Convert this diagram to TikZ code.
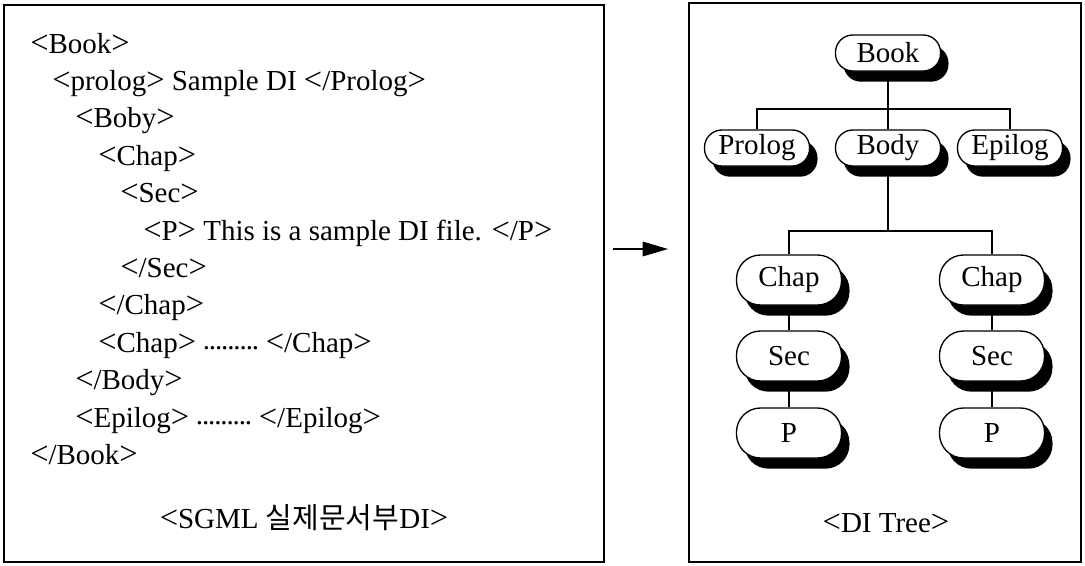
\documentclass[tikz,border=0pt]{standalone}
\usepackage{fontspec}
\usepackage{graphicx}
\setmainfont{Liberation Serif}
\newfontfamily\cjk{Noto Sans CJK KR}
\usetikzlibrary{shadows,arrows.meta}
\newcommand\dd{\raisebox{2pt}{\makebox[4.6pt]{.}}}
\newcommand\dts{\dd\dd\dd\dd\dd\dd\dd\dd\dd}
\newcommand\lt{\scalebox{1.12}[1.12]{<}}
\newcommand\gt{\scalebox{1.12}[1.12]{>}}
\begin{document}
\begin{tikzpicture}[x=0.75pt,y=-0.75pt,
  txt/.style={font=\fontsize{21.75pt}{26pt}\selectfont, inner sep=0pt},
  codeline/.style={txt, anchor=base west},
  caption/.style={txt, anchor=base},
  frame/.style={draw, line width=1.3pt},
  tnode/.style={draw, line width=1pt, fill=white, txt, minimum width=78.75pt,
    drop shadow={shadow xshift=6pt, shadow yshift=-8pt, opacity=1, fill=black}},
  up/.style={tnode, minimum height=27pt, rounded corners=13pt},
  low/.style={tnode, minimum height=37.5pt, rounded corners=18pt},
  conn/.style={line width=0.8pt}]
\useasboundingbox (0,0) rectangle (1085,565);

% frames
\draw[frame] (4,5) rectangle (604,562);
\draw[frame] (689,3) rectangle (1081,562);

% left code lines
\node[codeline] (l1)  at (30,53)    {\lt Book\gt};
\node[codeline] (l2)  at (52,90.4)  {\lt prolog\gt{} Sample DI \lt/Prolog\gt};
\node[codeline] (l3)  at (75,127.8) {\lt Boby\gt};
\node[codeline] (l4)  at (98,165.2) {\lt Chap\gt};
\node[codeline] (l5)  at (120,202.6) {\lt Sec\gt};
\node[codeline] (l6)  at (143,240)  {\lt P\gt{} This is a sample DI file. \lt/P\gt};
\node[codeline] (l7)  at (120,277.4) {\lt/Sec\gt};
\node[codeline] (l8)  at (98,314.8) {\lt/Chap\gt};
\node[codeline] (l9)  at (98,352.2) {\lt Chap\gt{} \dts{} \lt/Chap\gt};
\node[codeline] (l10) at (75,389.6) {\lt/Body\gt};
\node[codeline] (l11) at (75,427)   {\lt Epilog\gt{} \dts{} \lt/Epilog\gt};
\node[codeline] (l12) at (30,464.4) {\lt/Book\gt};
\node[caption] (cap1) at (304,528) {\lt SGML {\cjk 실제문서부}DI\gt};

% arrow
\coordinate (a1) at (613,249);
\coordinate (a2) at (668,249);
\draw[conn, -{Triangle[length=19pt,width=11pt]}] (a1) -- (a2);

% tree
\node[up] (book)   at (888,53)  {Book};
\node[up] (prolog) at (757,148) {Prolog};
\node[up] (body)   at (888,148) {Body};
\node[up] (epilog) at (1010,148) {Epilog};
\node[low] (chapl) at (789,280) {Chap};
\node[low] (chapr) at (992,280) {Chap};
\node[low] (secl)  at (789,356) {Sec};
\node[low] (secr)  at (992,356) {Sec};
\node[low] (pl)    at (789,433) {P};
\node[low] (pr)    at (992,433) {P};
\node[caption] (cap2) at (886,532) {\lt DI Tree\gt};

\coordinate (j1) at (888,109);
\coordinate (j2) at (888,231);
\draw[conn] (book.south) -- (j1);
\draw[conn] (prolog.north) |- (j1) -| (epilog.north);
\draw[conn] (j1) -- (body.north);
\draw[conn] (body.south) -- (j2);
\draw[conn] (chapl.north) |- (j2) -| (chapr.north);
\draw[conn] (chapl.south) -- (secl.north);
\draw[conn] (chapr.south) -- (secr.north);
\draw[conn] (secl.south) -- (pl.north);
\draw[conn] (secr.south) -- (pr.north);
\end{tikzpicture}
\end{document}
